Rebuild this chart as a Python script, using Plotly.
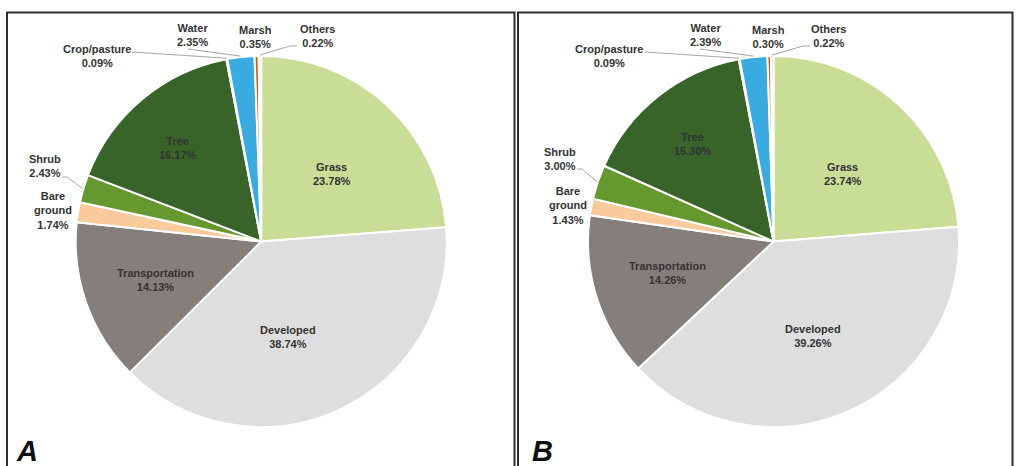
import math
import plotly.graph_objects as go

# Land-cover composition (percent of area) for the two panels
CATEGORIES = ["Grass", "Developed", "Transportation", "Bare ground", "Shrub",
              "Tree", "Crop/pasture", "Water", "Marsh", "Others"]
VALUES_A = [23.78, 38.74, 14.13, 1.74, 2.43, 16.17, 0.09, 2.35, 0.35, 0.22]
VALUES_B = [23.74, 39.26, 14.26, 1.43, 3.00, 15.30, 0.09, 2.39, 0.30, 0.22]
PANEL_TAGS = ["A", "B"]

COLORS = ["#c9dd97", "#dedede", "#857f7b", "#f9ca9b", "#65992f",
          "#386429", "#e8d44d", "#3aabe1", "#b5651d", "#e4c9e4"]

W, H = 1016, 466
FONT = "Liberation Sans, Arial, sans-serif"
TEXT_COLOR = "#333333"
LEADER_COLOR = "#a6a6a6"


def px(x):
    return x / W


def py(y):
    return 1 - y / H


def edge_point(cx, cy, r, values, idx):
    """Pixel position on the rim at the middle of slice idx (clockwise from 12 o'clock)."""
    total = sum(values)
    before = sum(values[:idx])
    ang = math.radians(360.0 * (before + values[idx] / 2.0) / total)
    return cx + r * math.sin(ang), cy - r * math.cos(ang)


def label_text(name, value):
    name = name.replace("Bare ground", "Bare<br>ground")
    return f"<b>{name}<br>{value:.2f}%</b>"


# Pie geometry in pixels: centre and radius for each panel
PIES = [
    dict(values=VALUES_A, cx=261.2, cy=241.5, r=185.5,
         labels={"Grass": (332, 174), "Developed": (288, 337), "Transportation": (155, 280),
                 "Tree": (178, 148), "Shrub": (45, 166), "Bare ground": (53, 210),
                 "Crop/pasture": (97, 55.5), "Water": (192, 34.5), "Marsh": (255, 37),
                 "Others": (317, 36)},
         leaders={"Crop/pasture": [(132, 52)], "Water": [(188, 49)],
                  "Others": [(297, 46), (290, 46)], "Shrub": [(62, 177), (67, 177)]},
         tag=(27, 451)),
    dict(values=VALUES_B, cx=773.5, cy=241.5, r=185.5,
         labels={"Grass": (843, 174), "Developed": (813, 336), "Transportation": (667, 272.5),
                 "Tree": (693, 144), "Shrub": (560, 159), "Bare ground": (568, 205),
                 "Crop/pasture": (609, 55.5), "Water": (705, 34.5), "Marsh": (768, 37),
                 "Others": (828, 36)},
         leaders={"Crop/pasture": [(645, 52)], "Water": [(700, 49)],
                  "Others": [(810, 46), (803, 46)], "Shrub": [(577, 169), (582, 169)]},
         tag=(542, 451)),
]

fig = go.Figure()
annotations = []
shapes = []

for pie, tag in zip(PIES, PANEL_TAGS):
    cx, cy, r = pie["cx"], pie["cy"], pie["r"]
    fig.add_trace(go.Pie(
        labels=CATEGORIES,
        values=pie["values"],
        sort=False,
        direction="clockwise",
        rotation=0,
        textinfo="none",
        hoverinfo="label+percent",
        marker=dict(colors=COLORS, line=dict(color="white", width=2)),
        domain=dict(x=[px(cx - r), px(cx + r)], y=[py(cy + r), py(cy - r)]),
        showlegend=False,
    ))

    for name, (lx, ly) in pie["labels"].items():
        i = CATEGORIES.index(name)
        annotations.append(dict(
            x=px(lx), y=py(ly), xref="paper", yref="paper",
            text=label_text(name, pie["values"][i]), showarrow=False,
            xanchor="center", yanchor="middle", align="center",
            font=dict(family=FONT, size=11, color=TEXT_COLOR),
        ))

    for name, pts in pie["leaders"].items():
        i = CATEGORIES.index(name)
        ex, ey = edge_point(cx, cy, r + 1, pie["values"], i)
        path_pts = pts + [(ex, ey)]
        path = "M " + " L ".join(f"{px(x):.5f},{py(y):.5f}" for x, y in path_pts)
        shapes.append(dict(type="path", path=path, xref="paper", yref="paper",
                           line=dict(color=LEADER_COLOR, width=1)))

    tx, ty = pie["tag"]
    annotations.append(dict(
        x=px(tx), y=py(ty), xref="paper", yref="paper",
        text=f"<b><i>{tag}</i></b>", showarrow=False,
        xanchor="center", yanchor="middle",
        font=dict(family=FONT, size=29, color="#111111"),
    ))

# Panel frames
for x0, x1 in [(7, 514.5), (518, 1012.5)]:
    shapes.append(dict(type="rect", xref="paper", yref="paper",
                       x0=px(x0), x1=px(x1), y0=py(H + 10), y1=py(12.5),
                       line=dict(color="#2d2d2d", width=2), fillcolor="rgba(0,0,0,0)"))

fig.update_layout(
    width=W, height=H,
    margin=dict(l=0, r=0, t=0, b=0),
    paper_bgcolor="white",
    plot_bgcolor="white",
    annotations=annotations,
    shapes=shapes,
)

fig.write_html("out.html")
